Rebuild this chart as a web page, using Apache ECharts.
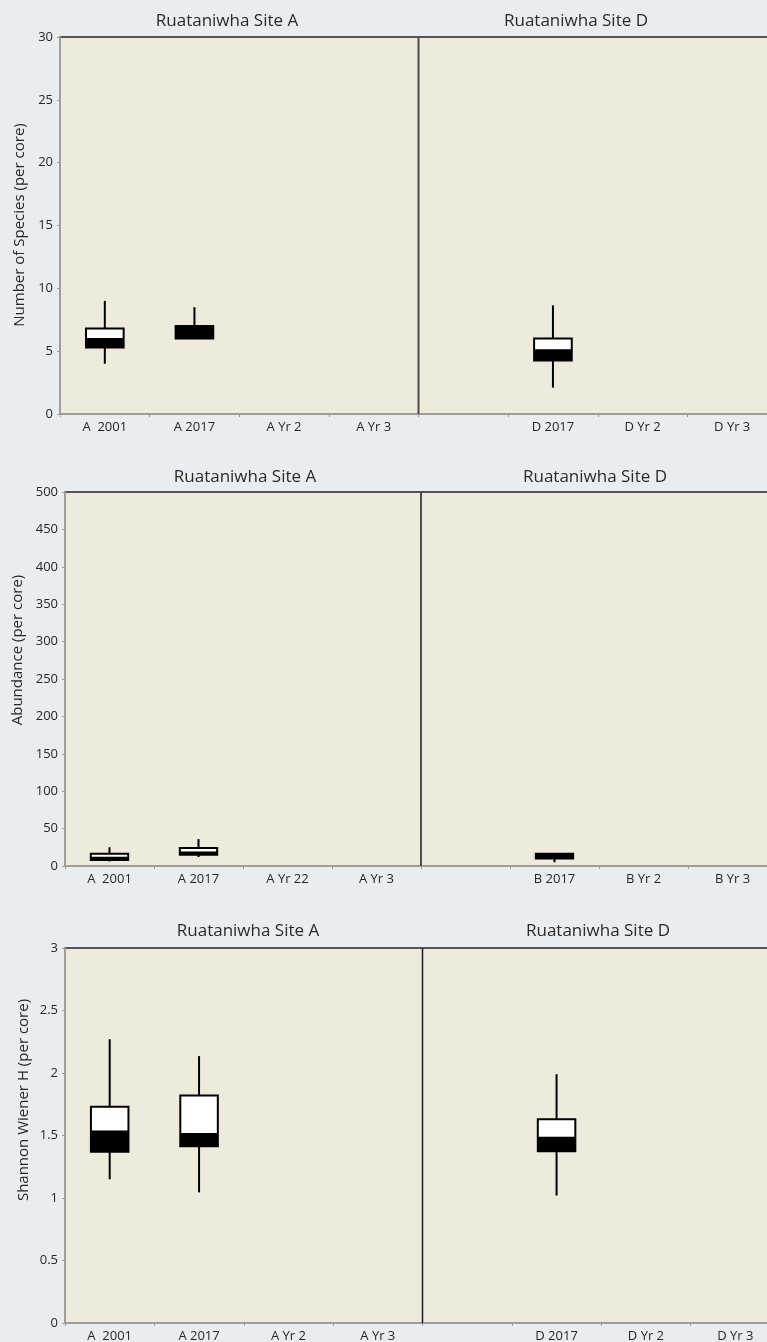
<!DOCTYPE html>
<html>
<head>
<meta charset="utf-8">
<script src="https://cdn.jsdelivr.net/npm/echarts@6/dist/echarts.min.js"></script>
<style>
html,body{margin:0;padding:0;background:#eaedf0;}
#chart{width:767px;height:1342px;}
</style>
</head>
<body>
<div id="chart"></div>
<script>
// ---- Data ----
const speciesCategories = ["A  2001", "A 2017", "A Yr 2", "A Yr 3", "", "D 2017", "D Yr 2", "D Yr 3"];
const abundanceCategories = ["A  2001", "A 2017", "A Yr 22", "A Yr 3", "", "B 2017", "B Yr 2", "B Yr 3"];
const shannonCategories = ["A  2001", "A 2017", "A Yr 2", "A Yr 3", "", "D 2017", "D Yr 2", "D Yr 3"];

// each box: [min, Q1, median, Q3, max]; null = no data
const speciesBoxes = [[4.0, 5.3, 6.05, 6.8, 9.0], [6.0, 6.0, 7.0, 7.0, 8.5], null, null, null, [2.1, 4.25, 5.15, 6.0, 8.65], null, null];
const abundanceBoxes = [[6, 8, 12.5, 16.5, 25], [12, 15, 19.5, 24, 36], null, null, null, [5, 10, 16.5, 16.5, 16.5], null, null];
const shannonBoxes = [[1.15, 1.37, 1.54, 1.73, 2.27], [1.045, 1.415, 1.52, 1.82, 2.135], null, null, null, [1.02, 1.375, 1.49, 1.63, 1.99], null, null];

// index of the first category of the second site (Site D / B) in each panel
const siteSplitIndex = 4;

const siteTitles = ["Ruataniwha Site A", "Ruataniwha Site D"];
const yAxisNames = ["Number of Species (per core)", "Abundance (per core)", "Shannon Wiener H (per core)"];
const yRanges = [[0, 30, 5], [0, 500, 50], [0, 3, 0.5]];

// ---- Build ----
const FONT = '"Open Sans", "Noto Sans", sans-serif';
const TXT = '#262626';

function toData(boxes) {
  return boxes.map((b, i) => b ? [i].concat(b) : null).filter(Boolean);
}

function renderBox(params, api) {
  const x = api.value(0);
  const pMin = api.coord([x, api.value(1)]);
  const pQ1 = api.coord([x, api.value(2)]);
  const pMed = api.coord([x, api.value(3)]);
  const pQ3 = api.coord([x, api.value(4)]);
  const pMax = api.coord([x, api.value(5)]);
  const w = api.size([1, 0])[0] * 0.42;
  const cx = pMed[0];
  const children = [];
  const lineStyle = { stroke: '#000', lineWidth: 2 };
  if (pMax[1] < pQ3[1]) children.push({ type: 'line', shape: { x1: cx, y1: pMax[1], x2: cx, y2: pQ3[1] }, style: lineStyle });
  if (pMin[1] > pQ1[1]) children.push({ type: 'line', shape: { x1: cx, y1: pQ1[1], x2: cx, y2: pMin[1] }, style: lineStyle });
  children.push({ type: 'rect', shape: { x: cx - w / 2, y: pQ3[1], width: w, height: pMed[1] - pQ3[1] }, style: { fill: '#fff' } });
  children.push({ type: 'rect', shape: { x: cx - w / 2, y: pMed[1], width: w, height: pQ1[1] - pMed[1] }, style: { fill: '#000' } });
  children.push({ type: 'rect', shape: { x: cx - w / 2, y: pQ3[1], width: w, height: pQ1[1] - pQ3[1] }, style: { fill: 'none', stroke: '#000', lineWidth: 2 } });
  return { type: 'group', children: children };
}

function makeSeparatorRenderer(color, width) {
  return function (params, api) {
    const c = api.coord([api.value(0), 0]);
    const x = c[0] - api.size([1, 0])[0] / 2;
    const cs = params.coordSys;
    return {
      type: 'line',
      shape: { x1: x, y1: cs.y, x2: x, y2: cs.y + cs.height },
      style: { stroke: color, lineWidth: width }
    };
  };
}

const grids = [
  { left: 60, top: 37, width: 717, height: 377 },
  { left: 65, top: 492, width: 712, height: 374 },
  { left: 65, top: 948, width: 715, height: 375 }
];
const catsList = [speciesCategories, abundanceCategories, shannonCategories];
const boxesList = [speciesBoxes, abundanceBoxes, shannonBoxes];
const titlePos = [
  [[227, 21], [576, 21]],
  [[245, 477], [595, 477]],
  [[248, 931], [598, 931]]
];
const namePos = [[20, 225], [18, 650], [24, 1100]];
const sepStyles = [['#4d4d4d', 2], ['#4d4d4d', 2], ['#1a1a1a', 1.5]];

const option = {
  backgroundColor: '#eaedf0',
  animation: false,
  grid: grids.map(g => Object.assign({ show: true, backgroundColor: '#efebdc', borderColor: '#555', borderWidth: 2, outerBoundsMode: 'none', containLabel: false }, g)),
  xAxis: grids.map((g, k) => ({
    type: 'category',
    gridIndex: k,
    data: catsList[k],
    axisLine: { lineStyle: { color: '#9d9d9d', width: 2 } },
    axisTick: { show: true, interval: 0, length: 3, lineStyle: { color: '#9d9d9d', width: 1 } },
    axisLabel: { interval: 0, color: TXT, fontFamily: FONT, fontSize: 13, margin: 7 },
    splitLine: { show: false }
  })),
  yAxis: grids.map((g, k) => ({
    type: 'value',
    gridIndex: k,
    min: yRanges[k][0], max: yRanges[k][1], interval: yRanges[k][2],
    axisLine: { show: true, lineStyle: { color: '#9d9d9d', width: 2 } },
    axisTick: { show: true, length: 3, lineStyle: { color: '#9d9d9d', width: 1 } },
    axisLabel: { color: TXT, fontFamily: FONT, fontSize: 13, margin: 7 },
    splitLine: { show: false },
    z: 3
  })),
  graphic: [].concat(
    titlePos.flatMap((pair, k) => pair.map((p, j) => ({
      type: 'text', x: p[0], y: p[1], silent: true,
      style: { text: siteTitles[j], align: 'center', verticalAlign: 'middle', fill: '#2a2a2a', font: '17px ' + FONT }
    }))),
    namePos.map((p, k) => ({
      type: 'text', x: p[0], y: p[1], rotation: Math.PI / 2, silent: true,
      style: { text: yAxisNames[k], align: 'center', verticalAlign: 'middle', fill: TXT, font: '15px ' + FONT }
    }))
  ),
  series: [].concat(
    grids.map((g, k) => ({
      type: 'custom',
      xAxisIndex: k, yAxisIndex: k,
      renderItem: makeSeparatorRenderer(sepStyles[k][0], sepStyles[k][1]),
      data: [[siteSplitIndex]],
      silent: true,
      z: 1
    })),
    boxesList.map((boxes, k) => ({
      type: 'custom',
      xAxisIndex: k, yAxisIndex: k,
      renderItem: renderBox,
      encode: { x: 0, y: [1, 2, 3, 4, 5] },
      data: toData(boxes),
      clip: false,
      z: 2
    }))
  )
};

const chart = echarts.init(document.getElementById('chart'), null, { renderer: 'canvas' });
chart.setOption(option);
</script>
</body>
</html>
